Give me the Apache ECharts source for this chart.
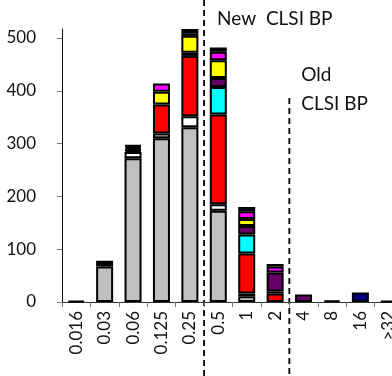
<!DOCTYPE html>
<html>
<head>
<meta charset="utf-8">
<script src="https://cdn.jsdelivr.net/npm/echarts@6/dist/echarts.min.js"></script>
<style>
  html, body { margin: 0; padding: 0; background: #fff; overflow: hidden; }
  #chart { position: absolute; left: 0; top: 0; width: 420px; height: 376px; }
</style>
</head>
<body>
<div id="chart"></div>
<script>
// MIC categories (mg/L)
const categories = ['0.016', '0.03', '0.06', '0.125', '0.25', '0.5', '1', '2', '4', '8', '16', '>32'];

// Isolate counts per MIC, stacked bottom to top
const grey    = [0, 67, 272, 310, 331, 173, 11, 0, 0, 0, 0, 0];
const white   = [0, 0, 12, 9, 21, 12, 5, 0, 0, 0, 0, 0];
const red     = [0, 0, 3, 55, 114, 170, 76, 16, 0, 0, 0, 0];
const cyan    = [0, 0, 2, 0, 6, 52, 36, 4, 0, 0, 0, 0];
const purple  = [0, 0, 3, 0, 0, 17, 16, 36, 14, 0, 0, 0];
const yellow  = [0, 0, 3, 24, 32, 34, 13, 0, 0, 0, 0, 0];
const magenta = [0, 0, 2, 16, 5, 16, 15, 11, 0, 0, 0, 0];
const navy    = [0, 0, 0, 0, 0, 0, 8, 0, 0, 0, 18, 0];
const black   = [2, 11, 0, 0, 8, 8, 0, 5, 0, 3, 0, 2];

const yTicks = [0, 100, 200, 300, 400, 500];

// Breakpoint annotations: line sits between these two categories
const newBP = ['0.25', '0.5'];
const oldBP = ['2', '4'];

const FONT = 'Lato, "Open Sans", sans-serif';

const layers = [
  ['grey', grey, '#C0C0C0'],
  ['white', white, '#FFFFFF'],
  ['red', red, '#FF0000'],
  ['cyan', cyan, '#00FFFF'],
  ['purple', purple, '#660066'],
  ['yellow', yellow, '#FFFF00'],
  ['magenta', magenta, '#FF00FF'],
  ['navy', navy, '#000080'],
  ['black', black, '#000000']
];

const chart = echarts.init(document.getElementById('chart'), null, { renderer: 'canvas' });

chart.setOption({
  animation: false,
  backgroundColor: '#fff',
  grid: { left: 62, top: 29, bottom: 74, right: 17, containLabel: false },
  xAxis: {
    type: 'category',
    data: categories,
    boundaryGap: true,
    axisLine: { show: true, lineStyle: { color: '#333', width: 1 } },
    axisTick: { show: true, alignWithLabel: false, length: 5, lineStyle: { color: '#777' } },
    axisLabel: {
      rotate: 90, margin: 9, interval: 0,
      fontFamily: FONT, fontSize: 17, color: '#111'
    },
    splitLine: { show: false }
  },
  yAxis: {
    type: 'value',
    min: 0, max: 517, interval: 100,
    axisLine: { show: true, lineStyle: { color: '#111', width: 1 } },
    axisTick: { show: true, length: 5, lineStyle: { color: '#777' }, customValues: yTicks },
    axisLabel: { margin: 26, fontFamily: FONT, fontSize: 17, color: '#111', customValues: yTicks },
    splitLine: { show: false }
  },
  series: layers.map(([name, values, color]) => ({
    name: name,
    type: 'bar',
    stack: 'mic',
    barWidth: 17,
    data: values.map(v => (v ? v : '-')),
    itemStyle: { color: color, borderColor: '#000', borderWidth: 2 }
  }))
});

// Dashed breakpoint lines placed between category centres
function between(pair) {
  const a = chart.convertToPixel({ xAxisIndex: 0 }, pair[0]);
  const b = chart.convertToPixel({ xAxisIndex: 0 }, pair[1]);
  return (a + b) / 2;
}
const xNew = between(newBP);
const xOld = between(oldBP);
const dash = { stroke: '#000', lineWidth: 1.8, lineDash: [6, 4] };
const txt = (x, y, s) => ({
  type: 'text', x: x, y: y, silent: true,
  style: { text: s, fill: '#111', font: '19px ' + FONT, textAlign: 'left', textVerticalAlign: 'middle' }
});

chart.setOption({
  graphic: [
    { type: 'line', silent: true, shape: { x1: xNew, y1: 0, x2: xNew, y2: 376 }, style: dash },
    { type: 'line', silent: true, shape: { x1: xOld, y1: 98, x2: xOld, y2: 376 }, style: dash },
    txt(xNew + 13, 19, 'New  CLSI BP'),
    txt(xOld + 12, 75, 'Old'),
    txt(xOld + 12, 104, 'CLSI BP')
  ]
});
</script>
</body>
</html>
